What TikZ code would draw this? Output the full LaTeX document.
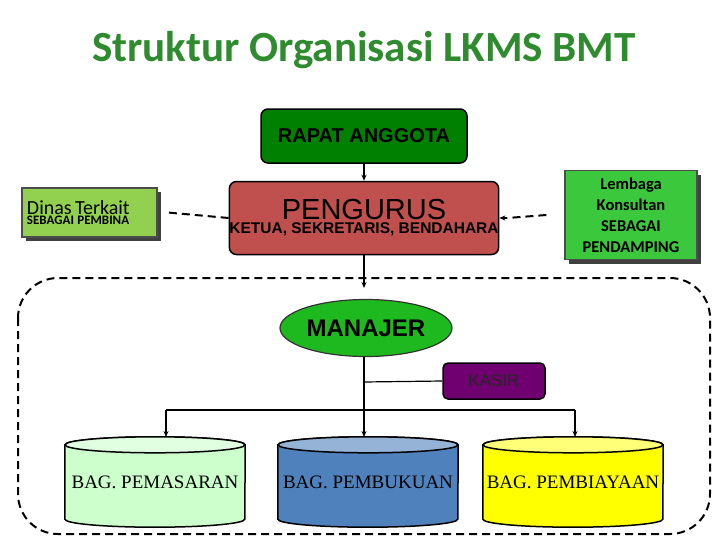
\documentclass[tikz,border=0pt]{standalone}
\usepackage{fontspec}
\setmainfont{Liberation Sans}
\newfontfamily\calfont{Carlito}
\newfontfamily\tnrfont{Liberation Serif}
\usetikzlibrary{shapes.geometric,arrows.meta}
\definecolor{ttl}{RGB}{46,139,46}
\definecolor{rapat}{RGB}{0,128,0}
\definecolor{peng}{RGB}{192,80,77}
\definecolor{dinas}{RGB}{146,208,80}
\definecolor{lemb}{RGB}{60,200,60}
\definecolor{man}{RGB}{30,185,30}
\definecolor{kas}{RGB}{112,0,112}
\definecolor{c1}{RGB}{204,255,204}\definecolor{c1t}{RGB}{225,255,225}
\definecolor{c2}{RGB}{79,129,189}\definecolor{c2t}{RGB}{149,179,215}
\definecolor{c3}{RGB}{255,255,0}\definecolor{c3t}{RGB}{255,255,120}
\tikzset{
 box/.style={draw=black,line width=1.5pt,rounded corners=7pt,align=center,inner sep=0pt},
 sbox/.style={draw=black!70,line width=1.2pt,align=center,inner sep=0pt},
 conn/.style={line width=1.2pt,-{Stealth[length=6pt,width=5pt]}},
 dconn/.style={line width=2pt,dash pattern=on 8pt off 5pt},
 cyl/.style={minimum width=180pt,minimum height=90pt,inner sep=0pt,font=\tnrfont\fontsize{19}{21}\selectfont},
}
\newcommand{\cylpath}[3]{%
 \draw[line width=1.5pt,fill=#2] ([yshift=-8pt]#1.north west) -- ([yshift=8pt]#1.south west) arc(180:360:90pt and 8pt) -- ([yshift=-8pt]#1.north east) arc(0:180:90pt and 8pt) -- cycle;
 \draw[line width=1.5pt,fill=#3] ([yshift=-8pt]#1.north) ellipse (90pt and 8pt);}
\begin{document}
\begin{tikzpicture}[x=1pt,y=-1pt]
\useasboundingbox (0,0) rectangle (728,546);
\node (title) at (364,50) {\calfont\bfseries\fontsize{43}{46}\selectfont\color{ttl}Struktur Organisasi LKMS BMT};
\draw[dconn,rounded corners=40pt] (18,278) rectangle (710,534);
\node[box,fill=rapat,minimum width=206pt,minimum height=54pt,font=\bfseries\fontsize{20}{22}\selectfont] (rapat) at (364,136) {RAPAT ANGGOTA};
\node[box,fill=peng,minimum width=258pt,minimum height=73pt] (peng) at (364,218) {{\fontsize{29}{31}\selectfont PENGURUS}\\[2pt]{\bfseries\fontsize{15.5}{18}\selectfont KETUA, SEKRETARIS, BENDAHARA}};
\fill[black!75] (26,192) rectangle (161,241);
\node[sbox,fill=dinas,minimum width=135pt,minimum height=49pt,text width=125pt,align=left] (dinas) at (89.5,212.5) {\calfont\fontsize{20}{22}\selectfont Dinas Terkait\\[-2pt]\calfont\bfseries\fontsize{13}{15}\selectfont SEBAGAI PEMBINA};
\fill[black!75] (569,175) rectangle (701,264);
\node[sbox,fill=lemb,minimum width=132pt,minimum height=89pt,font=\calfont\bfseries\fontsize{16.5}{21}\selectfont] (lemb) at (631,215) {Lembaga\\Konsultan\\SEBAGAI\\PENDAMPING};
\draw[dconn] (peng.west) -- ([xshift=10pt]dinas.east);
\draw[dconn] ([xshift=-18pt]lemb.west) -- ([xshift=8pt]peng.east);
\draw[-{Stealth[length=6pt,width=5pt]},line width=1.2pt] ([xshift=8pt]peng.east) -- (peng.east);
\node[draw=black!80,line width=1.2pt,ellipse,fill=man,minimum width=172pt,minimum height=57pt,inner sep=0pt,font=\bfseries\fontsize{24}{26}\selectfont] (man) at (366,328) {MANAJER};
\draw[conn] (rapat.south) -- (peng.north);
\draw[conn] (peng.south) -- (364,288) coordinate (m1);
\node[box,fill=kas,rounded corners=5pt,minimum width=102pt,minimum height=36pt,font=\fontsize{17}{19}\selectfont,text=black!85] (kas) at (494,381) {KASIR};
\node[cyl] (b1) at (155,482) {};
\node[cyl] (b2) at (368,482) {};
\node[cyl] (b3) at (573,482) {};
\cylpath{b1}{c1}{c1t}
\cylpath{b2}{c2}{c2t}
\cylpath{b3}{c3}{c3t}
\node[cyl] (t1) at (b1) {BAG. PEMASARAN};
\node[cyl] (t2) at (b2) {BAG. PEMBUKUAN};
\node[cyl] (t3) at (b3) {BAG. PEMBIAYAAN};
\draw[line width=1.2pt] (364,357) -- (364,410);
\draw[line width=1.2pt] (364,382) -- (kas.west);
\draw[line width=1.2pt] (166,410) -- (575,410);
\draw[conn] (166,410) -- (166,437);
\draw[conn] (364,410) -- (364,437);
\draw[conn] (575,410) -- (575,437);
\end{tikzpicture}
\end{document}
